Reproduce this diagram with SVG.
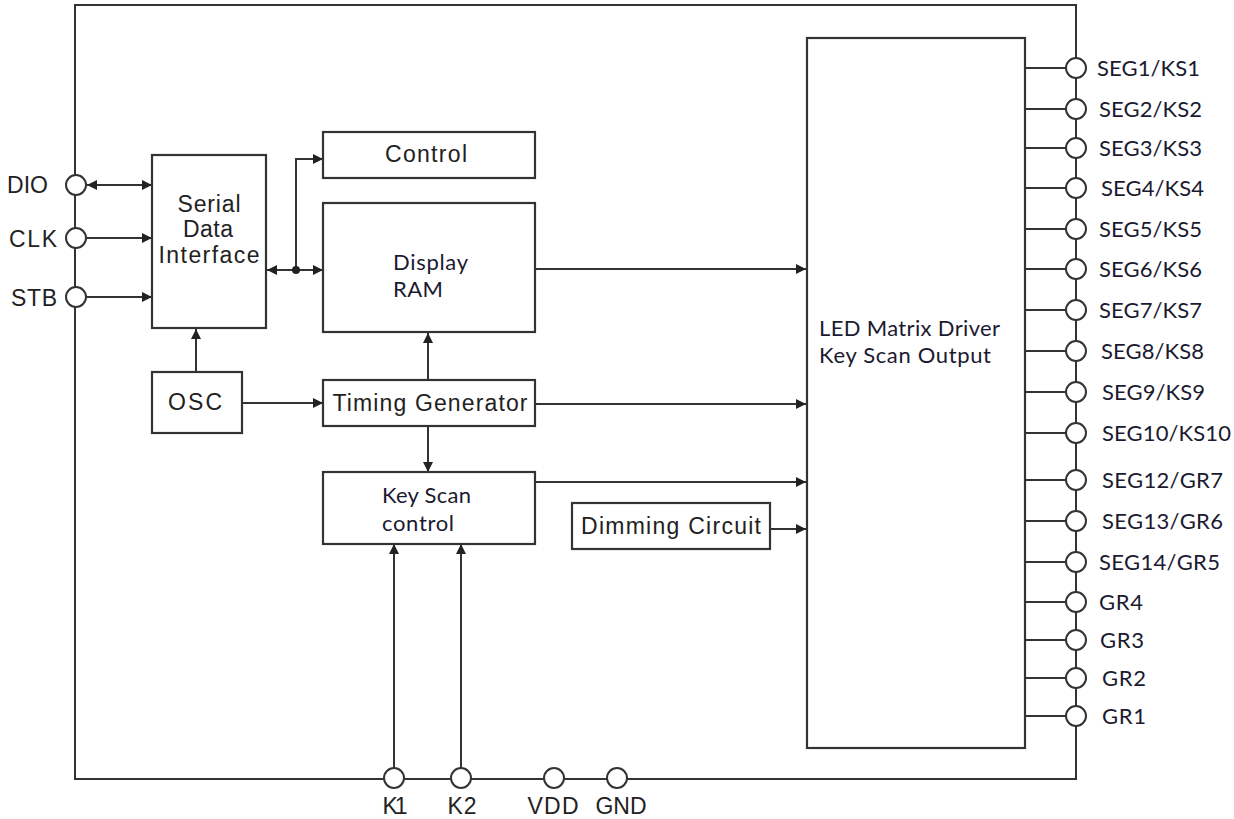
<svg xmlns="http://www.w3.org/2000/svg" width="1234" height="819" viewBox="0 0 1234 819">
<style>
.box{fill:#fff;stroke:#333;stroke-width:2.2}
.ln{fill:none;stroke:#333;stroke-width:2}
.pin{fill:#fff;stroke:#333;stroke-width:2}
.a{font-family:"Liberation Sans",Arial,sans-serif;font-size:23px;fill:#222}
.s{font-family:Lato,"Open Sans",sans-serif;font-size:22px;fill:#1a1a30}
.m{text-anchor:middle}
</style>
<defs>
<marker id="ar" viewBox="0 0 10 10" refX="10" refY="5" markerWidth="11" markerHeight="10" markerUnits="userSpaceOnUse" orient="auto-start-reverse">
<path d="M0,0 L10,5 L0,10 z" fill="#222"/>
</marker>
</defs>
<rect width="1234" height="819" fill="#fff"/>
<g id="outline">
<rect x="75" y="5" width="1001" height="774" class="ln" stroke-width="2.5"/>
</g>
<g id="connectors">
<line x1="87" y1="185" x2="152" y2="185" class="ln" marker-start="url(#ar)" marker-end="url(#ar)"/>
<line x1="86" y1="238" x2="152" y2="238" class="ln" marker-end="url(#ar)"/>
<line x1="86" y1="297" x2="152" y2="297" class="ln" marker-end="url(#ar)"/>
<line x1="196" y1="371" x2="196" y2="329" class="ln" marker-end="url(#ar)"/>
<line x1="242" y1="403" x2="323" y2="403" class="ln" marker-end="url(#ar)"/>
<line x1="267" y1="270" x2="296" y2="270" class="ln" marker-start="url(#ar)"/>
<line x1="296" y1="270" x2="323" y2="270" class="ln" marker-end="url(#ar)"/>
<polyline points="296,270 296,159 323,159" class="ln" marker-end="url(#ar)"/>
<circle cx="296" cy="270" r="4" fill="#222"/>
<line x1="535" y1="269" x2="806" y2="269" class="ln" marker-end="url(#ar)"/>
<line x1="535" y1="404" x2="806" y2="404" class="ln" marker-end="url(#ar)"/>
<line x1="428" y1="379" x2="428" y2="333" class="ln" marker-end="url(#ar)"/>
<line x1="428" y1="426" x2="428" y2="472" class="ln" marker-end="url(#ar)"/>
<line x1="535" y1="482" x2="806" y2="482" class="ln" marker-end="url(#ar)"/>
<line x1="770" y1="529" x2="806" y2="529" class="ln" marker-end="url(#ar)"/>
<line x1="394" y1="768" x2="394" y2="544" class="ln" marker-end="url(#ar)"/>
<line x1="461" y1="768" x2="461" y2="544" class="ln" marker-end="url(#ar)"/>
<g id="seg-lines">
<line x1="1025" y1="68" x2="1066" y2="68" class="ln"/>
<line x1="1025" y1="109" x2="1066" y2="109" class="ln"/>
<line x1="1025" y1="148" x2="1066" y2="148" class="ln"/>
<line x1="1025" y1="188" x2="1066" y2="188" class="ln"/>
<line x1="1025" y1="229" x2="1066" y2="229" class="ln"/>
<line x1="1025" y1="269" x2="1066" y2="269" class="ln"/>
<line x1="1025" y1="310" x2="1066" y2="310" class="ln"/>
<line x1="1025" y1="351" x2="1066" y2="351" class="ln"/>
<line x1="1025" y1="392" x2="1066" y2="392" class="ln"/>
<line x1="1025" y1="433" x2="1066" y2="433" class="ln"/>
<line x1="1025" y1="480" x2="1066" y2="480" class="ln"/>
<line x1="1025" y1="521" x2="1066" y2="521" class="ln"/>
<line x1="1025" y1="562" x2="1066" y2="562" class="ln"/>
<line x1="1025" y1="602" x2="1066" y2="602" class="ln"/>
<line x1="1025" y1="640" x2="1066" y2="640" class="ln"/>
<line x1="1025" y1="678" x2="1066" y2="678" class="ln"/>
<line x1="1025" y1="716" x2="1066" y2="716" class="ln"/>
</g>
</g>
<g id="serial-data-interface">
<rect x="152" y="155" width="114" height="173" class="box"/>
<text x="209" y="212" class="a m" textLength="63" lengthAdjust="spacing">Serial</text>
<text x="208" y="237" class="a m" textLength="50" lengthAdjust="spacing">Data</text>
<text x="209" y="263" class="a m" textLength="101" lengthAdjust="spacing">Interface</text>
</g>
<g id="osc">
<rect x="152" y="372" width="90" height="61" class="box"/>
<text x="195" y="410" class="a m" textLength="54" lengthAdjust="spacing">OSC</text>
</g>
<g id="control">
<rect x="323" y="132" width="212" height="46" class="box"/>
<text x="426" y="162" class="a m" textLength="82" lengthAdjust="spacing">Control</text>
</g>
<g id="display-ram">
<rect x="323" y="203" width="212" height="129" class="box"/>
<text x="393" y="270" class="s" textLength="75" lengthAdjust="spacing">Display</text>
<text x="393" y="297" class="s" textLength="50" lengthAdjust="spacing">RAM</text>
</g>
<g id="timing-generator">
<rect x="323" y="380" width="212" height="46" class="box"/>
<text x="430" y="411" class="a m" textLength="195" lengthAdjust="spacing">Timing Generator</text>
</g>
<g id="key-scan-control">
<rect x="323" y="472" width="212" height="72" class="box"/>
<text x="382" y="503" class="s" textLength="89" lengthAdjust="spacing">Key Scan</text>
<text x="382" y="531" class="s" textLength="72" lengthAdjust="spacing">control</text>
</g>
<g id="dimming-circuit">
<rect x="572" y="503" width="198" height="46" class="box"/>
<text x="671" y="534" class="a m" textLength="180" lengthAdjust="spacing">Dimming Circuit</text>
</g>
<g id="led-matrix-driver">
<rect x="807" y="38" width="218" height="710" class="box"/>
<text x="819" y="336" class="s" textLength="181" lengthAdjust="spacing">LED Matrix Driver</text>
<text x="819" y="363" class="s" textLength="172" lengthAdjust="spacing">Key Scan Output</text>
</g>
<g id="pins-left">
<circle cx="76" cy="185" r="10" class="pin"/>
<circle cx="76" cy="238" r="10" class="pin"/>
<circle cx="76" cy="297" r="10" class="pin"/>
<text x="7" y="193" class="a" textLength="41" lengthAdjust="spacing">DIO</text>
<text x="9" y="247" class="a" textLength="48" lengthAdjust="spacing">CLK</text>
<text x="11" y="306" class="a" textLength="46" lengthAdjust="spacing">STB</text>
</g>
<g id="pins-bottom">
<circle cx="394" cy="778" r="10" class="pin"/>
<circle cx="461" cy="778" r="10" class="pin"/>
<circle cx="554" cy="778" r="10" class="pin"/>
<circle cx="617" cy="778" r="10" class="pin"/>
<text x="395" y="814" class="a m" textLength="25" lengthAdjust="spacing">K1</text>
<text x="462" y="814" class="a m" textLength="29" lengthAdjust="spacing">K2</text>
<text x="553" y="814" class="a m" textLength="51" lengthAdjust="spacing">VDD</text>
<text x="621" y="814" class="a m" textLength="51" lengthAdjust="spacing">GND</text>
</g>
<g id="pins-right">
<circle cx="1076" cy="68" r="10" class="pin"/>
<circle cx="1076" cy="109" r="10" class="pin"/>
<circle cx="1076" cy="148" r="10" class="pin"/>
<circle cx="1076" cy="188" r="10" class="pin"/>
<circle cx="1076" cy="229" r="10" class="pin"/>
<circle cx="1076" cy="269" r="10" class="pin"/>
<circle cx="1076" cy="310" r="10" class="pin"/>
<circle cx="1076" cy="351" r="10" class="pin"/>
<circle cx="1076" cy="392" r="10" class="pin"/>
<circle cx="1076" cy="433" r="10" class="pin"/>
<circle cx="1076" cy="480" r="10" class="pin"/>
<circle cx="1076" cy="521" r="10" class="pin"/>
<circle cx="1076" cy="562" r="10" class="pin"/>
<circle cx="1076" cy="602" r="10" class="pin"/>
<circle cx="1076" cy="640" r="10" class="pin"/>
<circle cx="1076" cy="678" r="10" class="pin"/>
<circle cx="1076" cy="716" r="10" class="pin"/>
<text x="1097" y="76" class="s" textLength="103" lengthAdjust="spacing">SEG1/KS1</text>
<text x="1099" y="117" class="s" textLength="103" lengthAdjust="spacing">SEG2/KS2</text>
<text x="1099" y="156" class="s" textLength="103" lengthAdjust="spacing">SEG3/KS3</text>
<text x="1101" y="196" class="s" textLength="103" lengthAdjust="spacing">SEG4/KS4</text>
<text x="1099" y="237" class="s" textLength="103" lengthAdjust="spacing">SEG5/KS5</text>
<text x="1099" y="277" class="s" textLength="103" lengthAdjust="spacing">SEG6/KS6</text>
<text x="1099" y="318" class="s" textLength="103" lengthAdjust="spacing">SEG7/KS7</text>
<text x="1101" y="359" class="s" textLength="103" lengthAdjust="spacing">SEG8/KS8</text>
<text x="1102" y="400" class="s" textLength="103" lengthAdjust="spacing">SEG9/KS9</text>
<text x="1102" y="441" class="s" textLength="129" lengthAdjust="spacing">SEG10/KS10</text>
<text x="1102" y="488" class="s" textLength="121" lengthAdjust="spacing">SEG12/GR7</text>
<text x="1102" y="529" class="s" textLength="121" lengthAdjust="spacing">SEG13/GR6</text>
<text x="1099" y="570" class="s" textLength="121" lengthAdjust="spacing">SEG14/GR5</text>
<text x="1099" y="610" class="s" textLength="44" lengthAdjust="spacing">GR4</text>
<text x="1100" y="648" class="s" textLength="44" lengthAdjust="spacing">GR3</text>
<text x="1102" y="686" class="s" textLength="44" lengthAdjust="spacing">GR2</text>
<text x="1102" y="724" class="s" textLength="44" lengthAdjust="spacing">GR1</text>
</g>
</svg>
